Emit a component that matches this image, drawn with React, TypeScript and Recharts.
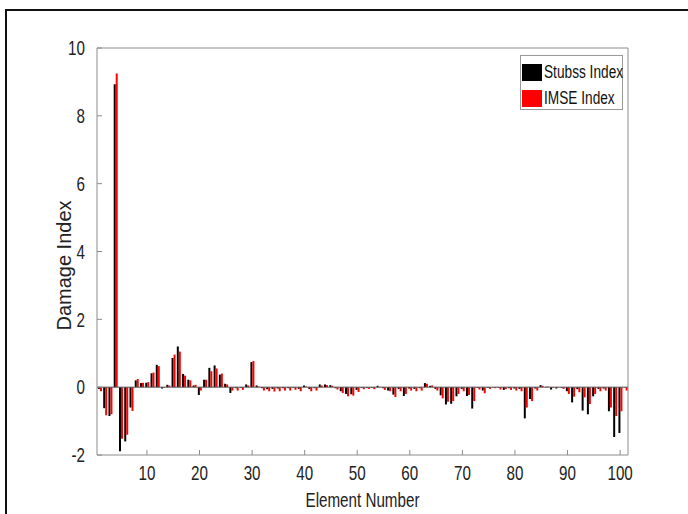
import { BarChart, Bar, XAxis, YAxis, ReferenceLine } from "recharts";

// element numbers 1..101
const elements = [
  1, 2, 3, 4, 5, 6, 7, 8, 9, 10, 11, 12, 13, 14, 15, 16, 17, 18, 19, 20,
  21, 22, 23, 24, 25, 26, 27, 28, 29, 30, 31, 32, 33, 34, 35, 36, 37, 38, 39, 40,
  41, 42, 43, 44, 45, 46, 47, 48, 49, 50, 51, 52, 53, 54, 55, 56, 57, 58, 59, 60,
  61, 62, 63, 64, 65, 66, 67, 68, 69, 70, 71, 72, 73, 74, 75, 76, 77, 78, 79, 80,
  81, 82, 83, 84, 85, 86, 87, 88, 89, 90, 91, 92, 93, 94, 95, 96, 97, 98, 99, 100,
  101,
];

const stubss = [
  -0.05, -0.62, -0.85, 8.93, -1.89, -1.6, -0.6, 0.2, 0.12, 0.13,
  0.41, 0.66, -0.04, 0.07, 0.86, 1.2, 0.39, 0.22, 0.05, -0.23,
  0.22, 0.57, 0.64, 0.37, 0.1, -0.17, -0.03, -0.02, 0.08, 0.74,
  0.05, -0.03, -0.06, -0.05, -0.04, -0.03, -0.03, -0.02, -0.05, 0.05,
  -0.05, -0.03, 0.08, 0.08, 0.06, -0.03, -0.12, -0.2, -0.21, -0.08,
  -0.02, -0.02, -0.02, 0.04, -0.03, -0.1, -0.22, -0.05, -0.26, -0.04,
  -0.05, -0.03, 0.12, 0.04, -0.05, -0.24, -0.51, -0.49, -0.27, -0.05,
  -0.26, -0.63, -0.02, -0.1, -0.02, -0.01, -0.02, -0.08, -0.03, -0.04,
  -0.05, -0.92, -0.35, -0.04, 0.06, 0.01, -0.07, -0.04, -0.02, -0.12,
  -0.45, -0.06, -0.69, -0.8, -0.27, -0.05, -0.04, -0.71, -1.47, -1.35,
  -0.01,
];

const imse = [
  -0.12, -0.83, -0.8, 9.25, -1.52, -1.4, -0.7, 0.24, 0.13, 0.15,
  0.43, 0.62, -0.02, 0.05, 0.96, 1.05, 0.34, 0.2, 0.07, -0.1,
  0.22, 0.47, 0.55, 0.4, 0.08, -0.1, -0.1, -0.08, 0.05, 0.77,
  0.02, -0.1, -0.12, -0.13, -0.12, -0.1, -0.1, -0.08, -0.12, 0.02,
  -0.12, -0.1, 0.05, 0.06, 0.04, -0.07, -0.17, -0.27, -0.25, -0.14,
  -0.06, -0.05, -0.06, 0.01, -0.08, -0.12, -0.29, -0.12, -0.2, -0.1,
  -0.12, -0.1, 0.1, 0.05, -0.1, -0.33, -0.43, -0.41, -0.2, -0.12,
  -0.23, -0.41, -0.07, -0.18, -0.05, -0.03, -0.07, -0.06, -0.08, -0.1,
  -0.12, -0.6, -0.41, -0.1, 0.04, 0.02, -0.02, -0.01, -0.05, -0.2,
  -0.28, -0.15, -0.3, -0.5, -0.2, -0.12, -0.1, -0.6, -0.85, -0.71,
  -0.1,
];

const xTicks = [10, 20, 30, 40, 50, 60, 70, 80, 90, 100];
const yTicks = [-2, 0, 2, 4, 6, 8, 10];

const data = elements.map((n, i) => ({ n, stubss: stubss[i], imse: imse[i] }));

const FONT = "'Liberation Sans', Arial, sans-serif";
const AXIS = "#8c8c8c";
const SQUEEZE = "scale(0.76,1)";

// matlab export looks horizontally squeezed, so text gets a scaleX
function XTick({ x, y, payload }: any) {
  return (
    <g transform={`translate(${x},${y})`}>
      <text transform={SQUEEZE} textAnchor="middle" dy="0.72em" fill="#222" fontFamily={FONT} fontSize={20}>
        {payload.value}
      </text>
    </g>
  );
}

function YTick({ x, y, payload }: any) {
  return (
    <g transform={`translate(${x},${y})`}>
      <text transform={SQUEEZE} textAnchor="end" dy="0.36em" fill="#222" fontFamily={FONT} fontSize={20}>
        {payload.value}
      </text>
    </g>
  );
}

function XTitle({ viewBox }: any) {
  const cx = viewBox.x + viewBox.width / 2;
  return (
    <g transform={`translate(${cx},507)`}>
      <text transform={SQUEEZE} textAnchor="middle" fill="#222" fontFamily={FONT} fontSize={20}>
        Element Number
      </text>
    </g>
  );
}

function LegendBox() {
  const row = (color: string, label: string) => (
    <div style={{ display: "flex", alignItems: "center", height: 26 }}>
      <div style={{ width: 20, height: 17, background: color, marginRight: 2, flex: "none" }} />
      <span
        style={{
          fontFamily: FONT,
          fontSize: 18,
          color: "#111",
          display: "inline-block",
          transform: "scaleX(0.76)",
          transformOrigin: "left center",
          whiteSpace: "nowrap",
        }}
      >
        {label}
      </span>
    </div>
  );
  return (
    <div
      style={{
        position: "absolute",
        left: 520,
        top: 55,
        border: "1px solid #999",
        background: "#fff",
        padding: "3px 2px 0 1px",
        width: 103,
        height: 55,
        boxSizing: "border-box",
      }}
    >
      {row("#000", "Stubss Index")}
      {row("#ff0000", "IMSE Index")}
    </div>
  );
}

export default function App() {
  return (
    <div
      style={{
        position: "absolute",
        left: 0,
        top: 0,
        width: 688,
        height: 514,
        overflow: "hidden",
        background: "#fff",
      }}
    >
      <div
        style={{
          position: "absolute",
          left: 5,
          top: 9,
          width: 720,
          height: 540,
          border: "2px solid #111",
          boxSizing: "border-box",
        }}
      />
      <div style={{ position: "absolute", left: 0, top: 0 }}>
        <BarChart
          width={688}
          height={514}
          data={data}
          margin={{ top: 47, right: 59, bottom: 14, left: 37 }}
          barCategoryGap="18%"
          barGap={0}
        >
          <XAxis
            dataKey="n"
            ticks={xTicks}
            height={45}
            tickSize={-5}
            tickMargin={16}
            interval={0}
            stroke={AXIS}
            tick={<XTick />}
            label={<XTitle />}
          />
          <XAxis
            xAxisId="t"
            dataKey="n"
            orientation="top"
            ticks={xTicks}
            height={1}
            tickSize={-5}
            tick={false}
            stroke={AXIS}
          />
          <YAxis
            domain={[-2, 10]}
            ticks={yTicks}
            width={60}
            tickSize={-5}
            tickMargin={17}
            stroke={AXIS}
            allowDataOverflow
            tick={<YTick />}
            label={{
              value: "Damage Index",
              angle: -90,
              position: "center",
              dx: -3,
              dy: 14,
              fill: "#222",
              fontFamily: FONT,
              fontSize: 20,
            }}
          />
          <YAxis
            yAxisId="r"
            orientation="right"
            domain={[-2, 10]}
            ticks={yTicks}
            width={1}
            tickSize={-5}
            tick={false}
            stroke={AXIS}
            allowDataOverflow
          />
          <ReferenceLine y={0} stroke="#555" strokeWidth={1} />
          <Bar dataKey="stubss" name="Stubss Index" fill="#000" isAnimationActive={false} />
          <Bar dataKey="imse" name="IMSE Index" fill="#ff0000" isAnimationActive={false} />
        </BarChart>
      </div>
      <LegendBox />
    </div>
  );
}
